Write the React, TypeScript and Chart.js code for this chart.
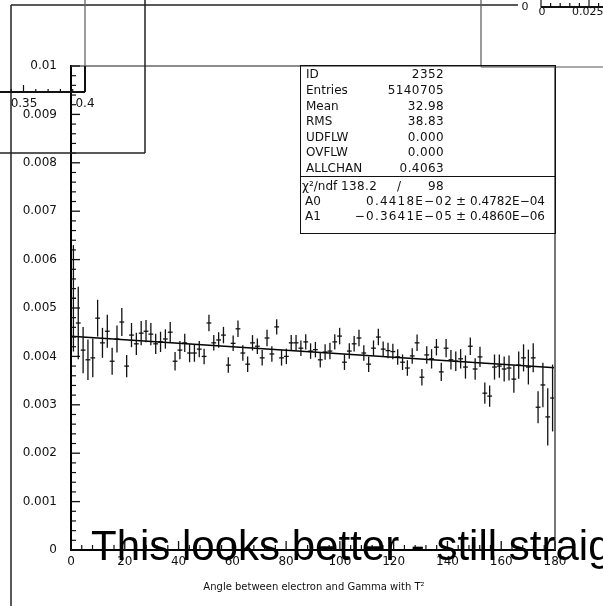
import { useEffect, useRef } from "react";
import Chart from "chart.js/auto";

// histogram definition
const X_MIN = 0;
const X_MAX = 180;
const BIN_WIDTH = 1.8;
const Y_MIN = 0;
const Y_MAX = 0.01;

// bin contents (100 bins of 1.8 deg)
const binValues = [
  0.0052, 0.00469, 0.00413, 0.00393, 0.00397, 0.00479, 0.00428, 0.00452, 0.0039, 0.00436,
  0.00471, 0.0038, 0.00444, 0.00426, 0.00448, 0.00452, 0.00446, 0.00426, 0.0043, 0.00436,
  0.0045, 0.0039, 0.00413, 0.00428, 0.00407, 0.00407, 0.00415, 0.004, 0.00469, 0.00428,
  0.00434, 0.00444, 0.00382, 0.00427, 0.00457, 0.00407, 0.00384, 0.00428, 0.00421, 0.00397,
  0.00438, 0.00405, 0.00461, 0.00397, 0.004, 0.00428, 0.00428, 0.00417, 0.0043, 0.00411,
  0.00414, 0.00393, 0.00409, 0.00411, 0.0043, 0.00442, 0.00388, 0.00411, 0.00426, 0.00438,
  0.00407, 0.00384, 0.00417, 0.0044, 0.00415, 0.00412, 0.0041, 0.00399, 0.00388, 0.00376,
  0.00401, 0.00428, 0.00357, 0.00403, 0.00395, 0.00419, 0.00368, 0.00417, 0.00393, 0.0039,
  0.00395, 0.00378, 0.00421, 0.00374, 0.00399, 0.00324, 0.00318, 0.00378, 0.0038, 0.00374,
  0.00376, 0.00353, 0.00382, 0.00397, 0.00378, 0.00397, 0.00295, 0.00341, 0.00275, 0.00314,
];

const binErrors = [
  0.0011, 0.00075, 0.00048, 0.00042, 0.0004, 0.00038, 0.00031, 0.00034, 0.00028, 0.00028,
  0.00029, 0.00023, 0.00025, 0.00023, 0.00025, 0.00023, 0.00023, 0.00021, 0.00021, 0.0002,
  0.00021, 0.00019, 0.00019, 0.00019, 0.00019, 0.00018, 0.00017, 0.00016, 0.00017, 0.00016,
  0.00016, 0.00017, 0.00016, 0.00016, 0.00017, 0.00016, 0.00016, 0.00016, 0.00016, 0.00016,
  0.00017, 0.00016, 0.00016, 0.00016, 0.00016, 0.00016, 0.00016, 0.00016, 0.00016, 0.00016,
  0.00016, 0.00016, 0.00016, 0.00017, 0.00016, 0.00017, 0.00016, 0.00016, 0.00016, 0.00017,
  0.00016, 0.00016, 0.00016, 0.00017, 0.00016, 0.00016, 0.00016, 0.00016, 0.00016, 0.00016,
  0.00016, 0.00017, 0.00017, 0.00018, 0.0002, 0.00017, 0.00019, 0.00019, 0.0002, 0.0002,
  0.0002, 0.00024, 0.00018, 0.00022, 0.00021, 0.00022, 0.00022, 0.00026, 0.00024, 0.00026,
  0.00026, 0.00028, 0.00028, 0.00028, 0.00036, 0.0003, 0.00033, 0.00046, 0.00059, 0.00069,
];

const binCenters = binValues.map((_, i) => X_MIN + BIN_WIDTH * (i + 0.5));

// straight-line fit (A0 + A1*x) end points
const fitX = [0, 180];
const fitY = [0.004418, 0.003763];

const xTickValues = [0, 20, 40, 60, 80, 100, 120, 140, 160, 180];
const xTickLabels = ["0", "20", "40", "60", "80", "100", "120", "140", "160", "180"];
const yTickValues = [0, 0.001, 0.002, 0.003, 0.004, 0.005, 0.006, 0.007, 0.008, 0.009, 0.01];
const yTickLabels = ["0", "0.001", "0.002", "0.003", "0.004", "0.005", "0.006", "0.007", "0.008", "0.009", "0.01"];
const X_MINOR = 5;
const Y_MINOR = 5;

const statLabels = ["ID", "Entries", "Mean", "RMS", "UDFLW", "OVFLW", "ALLCHAN"];
const statValues = ["2352", "5140705", "32.98", "38.83", "0.000", "0.000", "0.4063"];
const chi2Values = ["138.2", "98"];
const fitNames = ["A0", "A1"];
const fitValues = ["0.4418E\u221202", "\u22120.3641E\u221205"];
const fitErrors = ["0.4782E\u221204", "0.4860E\u221206"];

const xTitle = "Angle between electron and Gamma with T\u00b2";
const caption = "This looks better - still straight";

const W = 603;
const H = 606;
const MONO = "DejaVu Sans";

function Txt({ x, y, align = "left", size = 12, family = MONO, spacing = 0, children }: any) {
  const style: any = {
    position: "absolute",
    top: y - size * 0.58,
    fontFamily: family,
    fontSize: size,
    lineHeight: `${size * 1.2}px`,
    letterSpacing: spacing,
    whiteSpace: "nowrap",
    color: "#111",
  };
  if (align === "left") style.left = x;
  else if (align === "right") style.right = W - x;
  else {
    style.left = x;
    style.transform = "translateX(-50%)";
  }
  return <div style={style}>{children}</div>;
}

export default function App() {
  const chartRef = useRef<HTMLCanvasElement>(null);

  useEffect(() => {
    if (!chartRef.current) return;
    const ctx = chartRef.current.getContext("2d");
    if (!ctx) return;

    const errorBars = {
      id: "errorBars",
      afterDatasetsDraw(chart: any) {
        const { ctx, scales } = chart;
        const x = scales.x;
        const y = scales.y;
        ctx.save();
        ctx.strokeStyle = "#111";
        ctx.lineWidth = 1.3;
        binValues.forEach((v, i) => {
          const px = x.getPixelForValue(binCenters[i]);
          ctx.beginPath();
          ctx.moveTo(px, y.getPixelForValue(v + binErrors[i]));
          ctx.lineTo(px, y.getPixelForValue(v - binErrors[i]));
          ctx.stroke();
        });
        ctx.restore();
      },
    };

    const frame = {
      id: "frame",
      afterDraw(chart: any) {
        const { ctx, chartArea: a, scales } = chart;
        const x = scales.x;
        const y = scales.y;
        const line = (x1: number, y1: number, x2: number, y2: number, w: number, c: string) => {
          ctx.beginPath();
          ctx.lineWidth = w;
          ctx.strokeStyle = c;
          ctx.moveTo(x1, y1);
          ctx.lineTo(x2, y2);
          ctx.stroke();
        };
        ctx.save();
        // top / right frame
        line(a.left, a.top, a.right, a.top, 1.5, "#666");
        line(a.right, a.top, a.right, a.bottom, 2, "#777");

        // inward ticks on y axis
        for (let i = 0; i < yTickValues.length; i++) {
          const py = y.getPixelForValue(yTickValues[i]);
          line(a.left, py, a.left + 9, py, 1.3, "#111");
          if (i < yTickValues.length - 1) {
            const step = (yTickValues[i + 1] - yTickValues[i]) / Y_MINOR;
            for (let k = 1; k < Y_MINOR; k++) {
              const pm = y.getPixelForValue(yTickValues[i] + step * k);
              line(a.left, pm, a.left + 5, pm, 1.2, "#111");
            }
          }
        }
        // inward ticks on x axis
        for (let i = 0; i < xTickValues.length; i++) {
          const px = x.getPixelForValue(xTickValues[i]);
          line(px, a.bottom, px, a.bottom - 9, 1.3, "#111");
          if (i < xTickValues.length - 1) {
            const step = (xTickValues[i + 1] - xTickValues[i]) / X_MINOR;
            for (let k = 1; k < X_MINOR; k++) {
              const pm = x.getPixelForValue(xTickValues[i] + step * k);
              line(pm, a.bottom, pm, a.bottom - 5, 1.2, "#111");
            }
          }
        }

        // fragments of neighbouring pads
        line(11, 5, 11, H, 1.5, "#222");
        line(11, 5, 518, 5, 1.5, "#222");
        line(145, 0, 145, 153, 1.5, "#222");
        line(0, 153, 145, 153, 1.5, "#222");
        line(85, 0, 85, 66, 1.3, "#666");
        line(85, 66, 85, 92, 2, "#111");
        line(0, 92, 85, 92, 2, "#111");
        for (let k = -1; k <= 5; k++) {
          const px = 23.5 + k * 12.3;
          line(px, 92, px, k === 0 || k === 5 ? 85 : 89, 1.2, "#111");
        }
        line(481, 0, 481, 67, 1.2, "#555");
        line(481, 67, W, 67, 1.2, "#555");
        line(541, 7, W, 7, 2, "#111");
        for (let k = 0; k < 7; k++) {
          const px = 541 + k * 9.6;
          line(px, 7, px, k === 0 || k === 5 ? 0 : 3, 1.2, "#111");
        }

        ctx.fillStyle = "#111";
        ctx.font = `12px "${MONO}"`;
        ctx.textAlign = "center";
        ctx.textBaseline = "middle";
        ctx.fillText("0.35", 24, 104);
        ctx.fillText("0.4", 85, 104);
        ctx.font = `11px "${MONO}"`;
        ctx.fillText("0", 525, 7);
        ctx.fillText("0", 542, 12);
        ctx.textAlign = "left";
        ctx.fillText("0.025", 572, 12);
        ctx.restore();
      },
    };

    const chart = new Chart(ctx, {
      type: "scatter",
      data: {
        datasets: [
          {
            type: "line",
            label: "fit",
            data: fitX.map((x, i) => ({ x, y: fitY[i] })),
            borderColor: "#000",
            borderWidth: 1.5,
            pointRadius: 0,
            fill: false,
          },
          {
            type: "scatter",
            label: "data",
            data: binCenters.map((x, i) => ({ x, y: binValues[i] })),
            pointStyle: "line",
            pointRadius: 2.4,
            pointBorderWidth: 1.3,
            pointBorderColor: "#111",
            pointBackgroundColor: "#111",
          },
        ],
      },
      plugins: [errorBars, frame],
      options: {
        animation: false,
        responsive: false,
        layout: { padding: { left: 0, top: 66, right: W - 555, bottom: 0 } },
        plugins: { legend: { display: false }, tooltip: { enabled: false } },
        scales: {
          x: {
            type: "linear",
            min: X_MIN,
            max: X_MAX,
            afterBuildTicks: (s: any) => {
              s.ticks = xTickValues.map((value) => ({ value }));
            },
            afterFit: (s: any) => {
              s.height = H - 550;
            },
            grid: { display: false, drawTicks: false },
            border: { display: true, color: "#000", width: 2 },
            ticks: {
              color: "#111",
              padding: 5,
              maxRotation: 0,
              autoSkip: false,
              font: { family: MONO, size: 12 },
              callback: (_v: any, i: number) => xTickLabels[i],
            },
          },
          y: {
            type: "linear",
            min: Y_MIN,
            max: Y_MAX,
            afterBuildTicks: (s: any) => {
              s.ticks = yTickValues.map((value) => ({ value }));
            },
            afterFit: (s: any) => {
              s.width = 71;
            },
            grid: { display: false, drawTicks: false },
            border: { display: true, color: "#000", width: 2 },
            ticks: {
              color: "#111",
              padding: 14,
              autoSkip: false,
              font: { family: MONO, size: 12 },
              callback: (_v: any, i: number) => yTickLabels[i],
            },
          },
        },
      },
    } as any);

    return () => chart.destroy();
  }, []);

  const rowY = [74, 90, 105.5, 121, 136.5, 152, 167.5];

  return (
    <div
      style={{
        position: "fixed",
        left: 0,
        top: 0,
        width: W,
        height: H,
        overflow: "hidden",
        background: "#fff",
      }}
    >
      <canvas ref={chartRef} width={W} height={H} style={{ position: "absolute", left: 0, top: 0, width: W, height: H }} />

      {/* statistics box */}
      <div
        style={{
          position: "absolute",
          left: 300,
          top: 65,
          width: 256,
          height: 169,
          boxSizing: "border-box",
          border: "1.6px solid #111",
        }}
      />
      <div style={{ position: "absolute", left: 300, top: 176, width: 256, height: 1.2, background: "#111" }} />
      {statLabels.map((l, i) => (
        <Txt key={l} x={306} y={rowY[i]}>
          {l}
        </Txt>
      ))}
      {statValues.map((v, i) => (
        <Txt key={"v" + i} x={444} y={rowY[i]} align="right" spacing={0.4}>
          {v}
        </Txt>
      ))}
      <Txt x={302} y={185.5}>
        {"\u03c7\u00b2/ndf"}
      </Txt>
      <Txt x={341} y={185.5} spacing={0.4}>
        {chi2Values[0]}
      </Txt>
      <Txt x={399} y={185.5} align="center">
        /
      </Txt>
      <Txt x={444} y={185.5} align="right" spacing={0.4}>
        {chi2Values[1]}
      </Txt>
      {fitNames.map((n, i) => (
        <div key={n}>
          <Txt x={305} y={200.5 + i * 15}>
            {n}
          </Txt>
          <Txt x={453} y={200.5 + i * 15} align="right" spacing={1.2}>
            {fitValues[i]}
          </Txt>
          <Txt x={461} y={200.5 + i * 15} align="center">
            {"\u00b1"}
          </Txt>
          <Txt x={545} y={200.5 + i * 15} align="right">
            {fitErrors[i]}
          </Txt>
        </div>
      ))}

      <Txt x={314} y={587} align="center" size={10}>
        {xTitle}
      </Txt>

      <div
        style={{
          position: "absolute",
          left: 91,
          top: 525,
          fontFamily: "Liberation Sans, Arial, sans-serif",
          fontSize: 42,
          lineHeight: "42px",
          whiteSpace: "nowrap",
          color: "#000",
        }}
      >
        {caption}
      </div>
    </div>
  );
}
